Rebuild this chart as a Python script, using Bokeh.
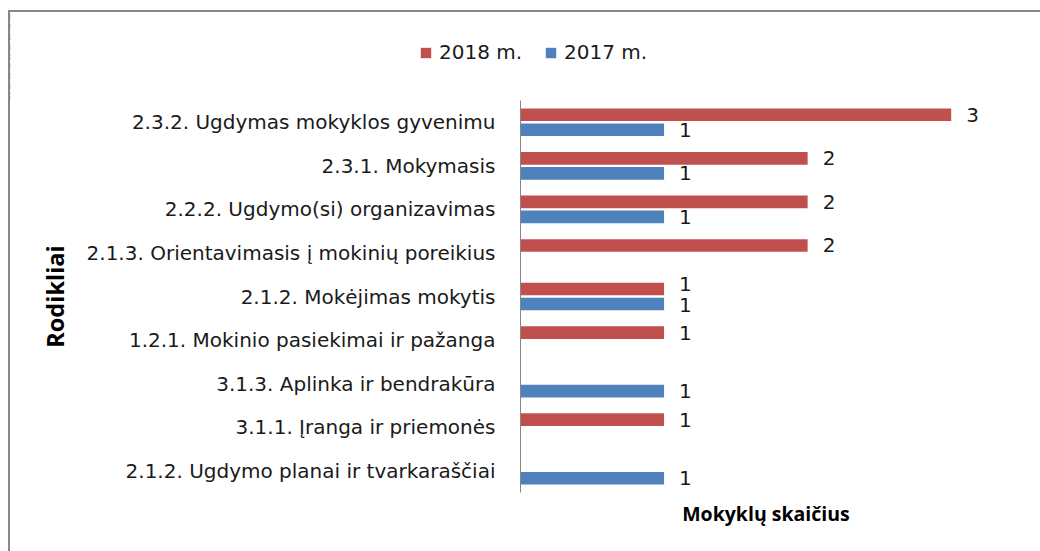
from bokeh.plotting import figure
from bokeh.models import ColumnDataSource, Legend, LegendItem, FixedTicker
from bokeh.layouts import column
from bokeh.transform import dodge
from bokeh.core.properties import value
from bokeh.embed import file_html
from bokeh.resources import INLINE

categories = [
    "2.3.2. Ugdymas mokyklos gyvenimu",
    "2.3.1. Mokymasis",
    "2.2.2. Ugdymo(si) organizavimas",
    "2.1.3. Orientavimasis į mokinių poreikius",
    "2.1.2. Mokėjimas mokytis",
    "1.2.1. Mokinio pasiekimai ir pažanga",
    "3.1.3. Aplinka ir bendrakūra",
    "3.1.1. Įranga ir priemonės",
    "2.1.2. Ugdymo planai ir tvarkaraščiai",
]
v2018 = [3, 2, 2, 2, 1, 1, 0, 1, 0]
v2017 = [1, 1, 1, 0, 1, 0, 1, 0, 1]
series_names = ["2018 m.", "2017 m."]
x_title = "Mokyklų skaičius"
y_title = "Rodikliai"

RED = "#C0504D"
BLUE = "#4F81BD"
FONT = "DejaVu Sans"
TFONT = "Open Sans"
TXT = "#1a1a1a"

factors = list(reversed(categories))
src = ColumnDataSource(dict(cat=categories, v2018=v2018, v2017=v2017))
off = 0.172
bh = 0.29

# ---------------- main chart ----------------
p = figure(
    width=1030, height=451,
    y_range=factors, x_range=(0, 3.42),
    output_backend="svg", toolbar_location=None,
    min_border_left=510, min_border_right=29,
    min_border_top=0, min_border_bottom=59,
)
p.frame_align = False
p.border_fill_color = None
p.outline_line_color = None
p.grid.visible = False

r18 = p.hbar(y=dodge("cat", off, range=p.y_range), right="v2018", left=0, height=bh,
             source=src, fill_color=RED, line_color=None)
r17 = p.hbar(y=dodge("cat", -off, range=p.y_range), right="v2017", left=0, height=bh,
             source=src, fill_color=BLUE, line_color=None)

# data labels for non-empty values; when both labels of a row would collide
# (equal values), nudge them apart vertically like the original does
def label_source(vals, other, nudge):
    cat, v, t, dy = [], [], [], []
    for c, a, b in zip(categories, vals, other):
        if a:
            cat.append(c)
            v.append(a)
            t.append(str(a))
            dy.append(nudge if a == b else 0)
    return ColumnDataSource(dict(cat=cat, v=v, t=t, dy=dy))

l18 = label_source(v2018, v2017, -5)
l17 = label_source(v2017, v2018, 1)
for s, o in ((l18, off), (l17, -off)):
    p.text(x="v", y=dodge("cat", o, range=p.y_range), text="t", source=s,
           x_offset=15, y_offset="dy", text_baseline="middle", text_align="left",
           text_font=value(FONT), text_font_size="20px", text_color=TXT)

yax = p.yaxis[0]
yax.axis_line_color = "#868686"
yax.axis_line_width = 1
yax.major_tick_line_color = None
yax.minor_tick_line_color = None
yax.major_label_text_font = FONT
yax.major_label_text_font_size = "20px"
yax.major_label_text_color = TXT
yax.major_label_standoff = 19
yax.axis_label = y_title
yax.axis_label_text_font = TFONT
yax.axis_label_text_font_style = "bold"
yax.axis_label_text_font_size = "23.5px"
yax.axis_label_text_color = "#000000"
yax.axis_label_standoff = 13

xax = p.xaxis[0]
xax.ticker = FixedTicker(ticks=[])
xax.axis_line_color = None
xax.major_tick_line_color = None
xax.minor_tick_line_color = None
xax.axis_label = x_title
xax.axis_label_text_font = TFONT
xax.axis_label_text_font_style = "bold"
xax.axis_label_text_font_size = "19.5px"
xax.axis_label_text_color = "#000000"
xax.axis_label_standoff = 7

# ---------------- legend strip (above the chart) ----------------
lg = figure(
    width=1030, height=88,
    y_range=factors, x_range=(100, 101),   # bars fall outside: only the legend shows
    output_backend="svg", toolbar_location=None, min_border=0,
)
lg.frame_align = False
lg.axis.visible = False
lg.grid.visible = False
lg.outline_line_color = None
lg.border_fill_color = None
g18 = lg.hbar(y=dodge("cat", off, range=lg.y_range), right="v2018", left=0, height=bh,
              source=src, fill_color=RED, line_color=None)
g17 = lg.hbar(y=dodge("cat", -off, range=lg.y_range), right="v2017", left=0, height=bh,
              source=src, fill_color=BLUE, line_color=None)
legend = Legend(
    items=[LegendItem(label=series_names[0], renderers=[g18]),
           LegendItem(label=series_names[1], renderers=[g17])],
    orientation="horizontal", location=(409, 36),
    glyph_width=13, glyph_height=13, label_standoff=7, spacing=22,
    padding=0, margin=0, border_line_color=None, background_fill_alpha=0,
    label_text_font=FONT, label_text_font_size="20px", label_text_color=TXT,
)
lg.add_layout(legend, "center")

layout = column(lg, p, spacing=0)
layout.margin = (10, 0, 0, 8)
layout.styles = {"border-top": "2px solid #878787", "border-left": "2px solid #878787"}

open("out.html", "w").write(file_html(layout, INLINE))
